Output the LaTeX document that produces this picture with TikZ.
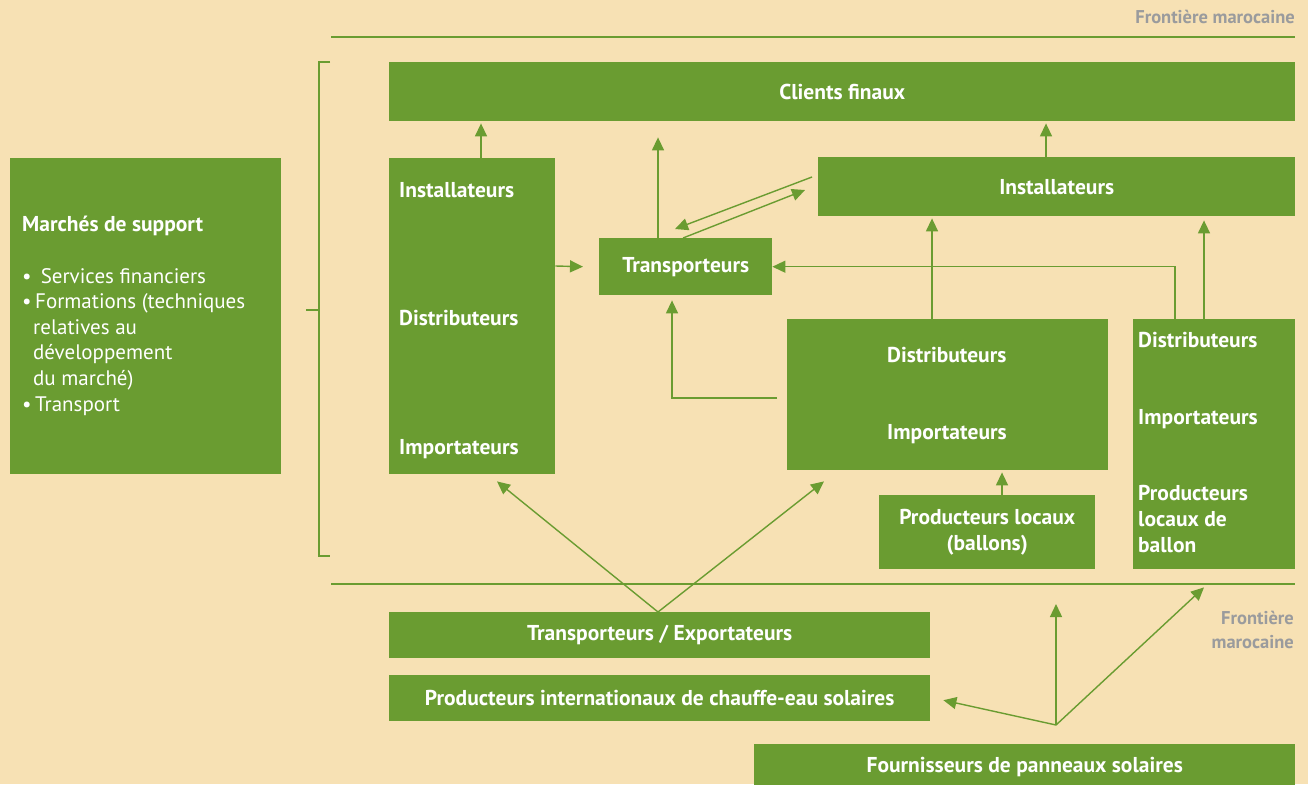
\documentclass[tikz,border=0pt]{standalone}
\usepackage{fontspec}
\setmainfont{PT Sans}
\usetikzlibrary{arrows.meta,calc}
\definecolor{bg}{HTML}{F7E1B4}
\definecolor{gr}{HTML}{6A9C31}
\definecolor{gy}{HTML}{9A9B9D}
\begin{document}
\begin{tikzpicture}[x=1pt,y=-1pt,
 box/.style={fill=gr, draw=none, inner sep=0pt, text=white, anchor=north west, font=\bfseries\fontsize{21.5}{26}\selectfont},
 lab/.style={text=white, font=\bfseries\fontsize{21.5}{26}\selectfont, inner sep=0pt, anchor=base west},
 reg/.style={text=white, font=\fontsize{21}{26}\selectfont, inner sep=0pt, anchor=base west},
 arr/.style={draw=gr, line width=1.4pt, -{Triangle[length=13pt,width=12pt]}},
 ln/.style={draw=gr, line width=1.6pt},
 gtxt/.style={text=gy, font=\bfseries\fontsize{18.5}{24}\selectfont, inner sep=0pt}]
\fill[bg] (0,0) rectangle (1308,784);
\useasboundingbox (0,0) rectangle (1308,784);

% border lines and labels
\draw[ln] (331,37) -- (1295,37);
\draw[ln] (331,584) -- (1295,584);
\node[gtxt, anchor=base east] (fm1) at (1295,24) {Frontière marocaine};
\node[gtxt, anchor=north east, align=right] (fm2) at (1294,611) {Frontière\\marocaine};

% bracket
\draw[ln, line width=1.4pt] (330,62) -- (319,62) -- (319,556) -- (330,556);
\draw[ln, line width=1.4pt] (306,310) -- (319,310);

% boxes
\node[box, minimum width=906, minimum height=59] (cf) at (389,62) {Clients finaux};
\node[box, minimum width=166, minimum height=316] (lc) at (389,158) {};
\node[box, minimum width=173, minimum height=57] (tr) at (599,238) {Transporteurs};
\node[box, minimum width=477, minimum height=59] (ir) at (818,157) {Installateurs};
\node[box, minimum width=321, minimum height=151] (md) at (787,319) {};
\node[box, minimum width=162, minimum height=250] (rb) at (1133,319) {};
\node[box, minimum width=216, minimum height=74, align=center] (pl) at (879,495) {Producteurs locaux\\(ballons)};
\node[box, minimum width=541, minimum height=46] (te) at (389,612) {Transporteurs / Exportateurs};
\node[box, minimum width=541, minimum height=46] (pi) at (389,675) {Producteurs internationaux de chauffe-eau solaires};
\node[box, minimum width=541, minimum height=46] (fo) at (754,744) {Fournisseurs de panneaux solaires};
\node[box, minimum width=271, minimum height=316] (ms) at (10,158) {};

% labels inside boxes
\node[lab] (lc1) at (399,197) {Installateurs};
\node[lab] (lc2) at (399,325) {Distributeurs};
\node[lab] (lc3) at (399,454) {Importateurs};
\node[lab] (md1) at (887,362) {Distributeurs};
\node[lab] (md2) at (887,439) {Importateurs};
\node[lab] (rb1) at (1138,347) {Distributeurs};
\node[lab] (rb2) at (1138,424) {Importateurs};
\node[lab] (rb3) at (1138,500) {Producteurs};
\node[lab] (rb4) at (1138,526) {locaux de};
\node[lab] (rb5) at (1138,552) {ballon};
\node[lab] (ms0) at (22,231) {Marchés de support};
\node[reg] (ms1) at (22,283) {• \,Services financiers};
\node[reg] (ms2) at (22,308) {•\,Formations (techniques};
\node[reg] (ms3) at (33,334) {relatives au};
\node[reg] (ms4) at (33,359) {développement};
\node[reg] (ms5) at (33,385) {du marché)};
\node[reg] (ms6) at (22,411) {•\,Transport};

% connectors
\draw[arr] ($(lc.north west)+(92,0)$) -- ($(cf.south west)+(92,2)$);
\draw[arr] ($(lc.north east)+(0,108)$) -- ($(tr.west)+(-16,0)$);
\draw[arr] ($(tr.north west)+(59,0)$) -- ($(cf.south west)+(269,16)$);
\coordinate (d1) at ($(ir.north west)+(-6,20)$);
\draw[arr] (d1) -- ($(tr.north west)+(76,-9)$);
\draw[arr] ($(tr.north west)+(84,0)$) -- ($(ir.north west)+(-13,33)$);
\draw[arr] ($(ir.north west)+(228,0)$) -- ($(cf.south west)+(657,2)$);
\draw[arr] ($(md.north west)+(145,0)$) -- ($(ir.south west)+(114,2)$);
\draw[arr] ($(rb.north west)+(42,0)$) |- (tr.east);
\draw[arr] ($(md.north west)+(-10,79)$) -| ($(tr.south west)+(73,5)$);
\draw[arr] ($(rb.north west)+(71,0)$) -- ($(ir.south west)+(386,4)$);
\draw[arr] ($(pl.north west)+(123,0)$) -- ($(md.south west)+(215,2)$);
\draw[arr] ($(te.north west)+(269,0)$) -- ($(lc.south west)+(108,7)$);
\draw[arr] ($(te.north west)+(269,0)$) -- ($(md.south west)+(37,11)$);
\coordinate (hub) at (1056,725);
\coordinate (up) at (1056,604);
\draw[arr] (hub) -- ($(pi.east)+(13,2)$);
\draw[arr] (hub) -- (up);
\draw[arr] (hub) -- ($(rb.south west)+(71,18)$);
\end{tikzpicture}
\end{document}
